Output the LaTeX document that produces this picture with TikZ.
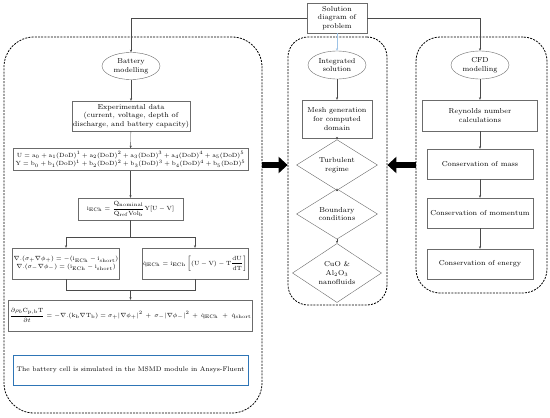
\documentclass[tikz,border=0pt]{standalone}
\usepackage{amsmath,amssymb}
\usepackage{xcolor}
\usepackage{tikz}
\usetikzlibrary{calc,arrows.meta,positioning,shapes.geometric}
\definecolor{edgex}{HTML}{6B6B6B}
\definecolor{linex}{HTML}{4A4A4A}
\definecolor{bluex}{HTML}{2E75B6}
\definecolor{skyx}{HTML}{9DC3E6}
\newcommand{\txtsize}{\fontsize{7.2}{8.6}\selectfont}
\newcommand{\eqsize}{\fontsize{6.3}{8}\selectfont}
\tikzset{
  ar/.style={-{Stealth[length=2.6pt,width=2.2pt]},thin,linex},
  ln/.style={thin,linex},
  box/.style={draw=edgex,thin,fill=white,align=center,inner sep=1pt,font=\txtsize},
  eqbox/.style={box,font=\eqsize},
  oval/.style={ellipse,draw=edgex,thin,fill=white,align=center,inner sep=0pt,font=\txtsize},
  dec/.style={diamond,draw=edgex,thin,fill=white,align=center,inner sep=0pt,font=\txtsize},
  grp/.style={draw=black,thick,dash pattern=on 2pt off 1.2pt,inner sep=0pt},
  note/.style={draw=bluex,line width=1pt,fill=white,align=center,inner sep=1pt,font=\fontsize{6.7}{8}\selectfont},
  bigar/.style={line width=6.5pt,-{Triangle[length=9pt,width=16pt]},black}
}

\begin{document}
\begin{tikzpicture}[x=1pt,y=-1pt]
\useasboundingbox (0,0) rectangle (550,418);
\node[grp,rounded corners=30pt,minimum width=258pt,minimum height=376pt] (batgrp) at (133,225) {};
\node[grp,rounded corners=20pt,minimum width=99pt,minimum height=268pt] (intgrp) at (337.5,171) {};
\node[grp,rounded corners=24pt,minimum width=131pt,minimum height=256pt] (cfdgrp) at (481.5,165) {};

\node[box,minimum width=60pt,minimum height=30pt] (sol) at (337,18) {Solution\\diagram of\\problem};

\node[oval,minimum width=58pt,minimum height=27pt] (bat) at (131,66) {Battery\\modelling};
\node[box,minimum width=117pt,minimum height=30pt] (exp) at (131,116) {Experimental data\\(current, voltage, depth of\\discharge, and battery capacity)};
\node[eqbox,font=\fontsize{6}{7.5}\selectfont,minimum width=235pt,minimum height=22pt] (poly) at (130.5,159.5)
  {$\mathrm{U=a_0+a_1(DoD)^1+a_2(DoD)^2+a_3(DoD)^3+a_4(DoD)^4+a_5(DoD)^5}$\\[1.2pt]
   $\mathrm{Y=b_0+b_1(DoD)^1+b_2(DoD)^2+b_3(DoD)^3+b_4(DoD)^4+b_5(DoD)^5}$};
\node[eqbox,minimum width=105pt,minimum height=22pt] (iech) at (130.5,209)
  {$\mathrm{i_{ECh}=\dfrac{Q_{nominal}}{Q_{ref}Vol_b}Y[U-V]}$};
\node[eqbox,minimum width=106pt,minimum height=31pt] (nab) at (66,263.5)
  {$\nabla.(\sigma_+\nabla\phi_+)=-(\mathrm{i_{ECh}-i_{short}})$\\
   $\nabla.(\sigma_-\nabla\phi_-)=(\mathrm{i_{ECh}-i_{short}})$};
\node[eqbox,minimum width=106pt,minimum height=31pt] (qech) at (195,263.5)
  {$\mathrm{\dot{q}_{ECh}=i_{ECh}\left[(U-V)-T\dfrac{dU}{dT}\right]}$};
\node[eqbox,font=\fontsize{6}{7.5}\selectfont,minimum width=235pt,minimum height=31pt] (heat) at (130.5,315.5)
  {$\dfrac{\partial\rho_b\mathrm{C_{p,b}T}}{\partial t}=-\nabla.(\mathrm{k_b}\nabla\mathrm{T_b})=\sigma_+|\nabla\phi_+|^2\,+\,\sigma_-|\nabla\phi_-|^2\,+\,\mathrm{\dot{q}_{ECh}}\;+\;\mathrm{\dot{q}_{short}}$};
\node[note,minimum width=235pt,minimum height=30pt] (msmd) at (130.5,370) {The battery cell is simulated in the MSMD module in Ansys-Fluent};

\node[oval,minimum width=58pt,minimum height=28pt] (int) at (337,65) {Integrated\\solution};
\node[box,minimum width=70pt,minimum height=38pt] (mesh) at (337,119) {Mesh generation\\for computed\\domain};
\node[dec,minimum width=81pt,minimum height=28pt] (turb) at (337,165) {Turbulent\\regime};
\node[dec,minimum width=81pt,minimum height=28pt] (bnd) at (337,214) {Boundary\\conditions};
\node[dec,minimum width=89pt,minimum height=52pt] (cuo) at (337,273) {CuO \&\\Al$_2$O$_3$\\nanofluids};

\node[oval,minimum width=58pt,minimum height=28pt] (cfd) at (480,65) {CFD\\modelling};
\node[box,minimum width=115pt,minimum height=31pt] (rey) at (480,115.5) {Reynolds number\\calculations};
\node[box,minimum width=106pt,minimum height=30pt] (mass) at (480,164) {Conservation of mass};
\node[box,minimum width=106pt,minimum height=30pt] (mom) at (480,213) {Conservation of momentum};
\node[box,minimum width=106pt,minimum height=30pt] (energy) at (480,264) {Conservation of energy};

\coordinate (brc) at (130.5,237);
\coordinate (mrg) at (130.5,290);

\draw[ar] (sol.west) -| (bat.north);
\draw[ar] (sol.east) -| (cfd.north);
\draw[-{Stealth[length=2.6pt,width=2.2pt]},thin,skyx] (sol.south) -- (int.north);
\draw[ar] (bat) -- (exp);
\draw[ar] (exp) -- (poly);
\draw[ar] (poly) -- (iech);
\draw[ln] (iech) -- (brc);
\draw[ar] (brc) -| (nab.north);
\draw[ar] (brc) -| (qech.north);
\draw[ln] (nab.south) |- (mrg);
\draw[ln] (qech.south) |- (mrg);
\draw[ar] (mrg) -- (heat);
\draw[ar] (int) -- (mesh);
\draw[ar] (mesh) -- (turb);
\draw[ar] (turb) -- (bnd);
\draw[ar] (bnd) -- (cuo);
\draw[ar] (cfd) -- (rey);
\draw[ar] (rey) -- (mass);
\draw[ar] (mass) -- (mom);
\draw[ar] (mom) -- (energy);
\draw[bigar] (batgrp.east |- turb) -- (intgrp.west |- turb);
\draw[bigar] (cfdgrp.west |- turb) -- (intgrp.east |- turb);
\end{tikzpicture}
\end{document}
